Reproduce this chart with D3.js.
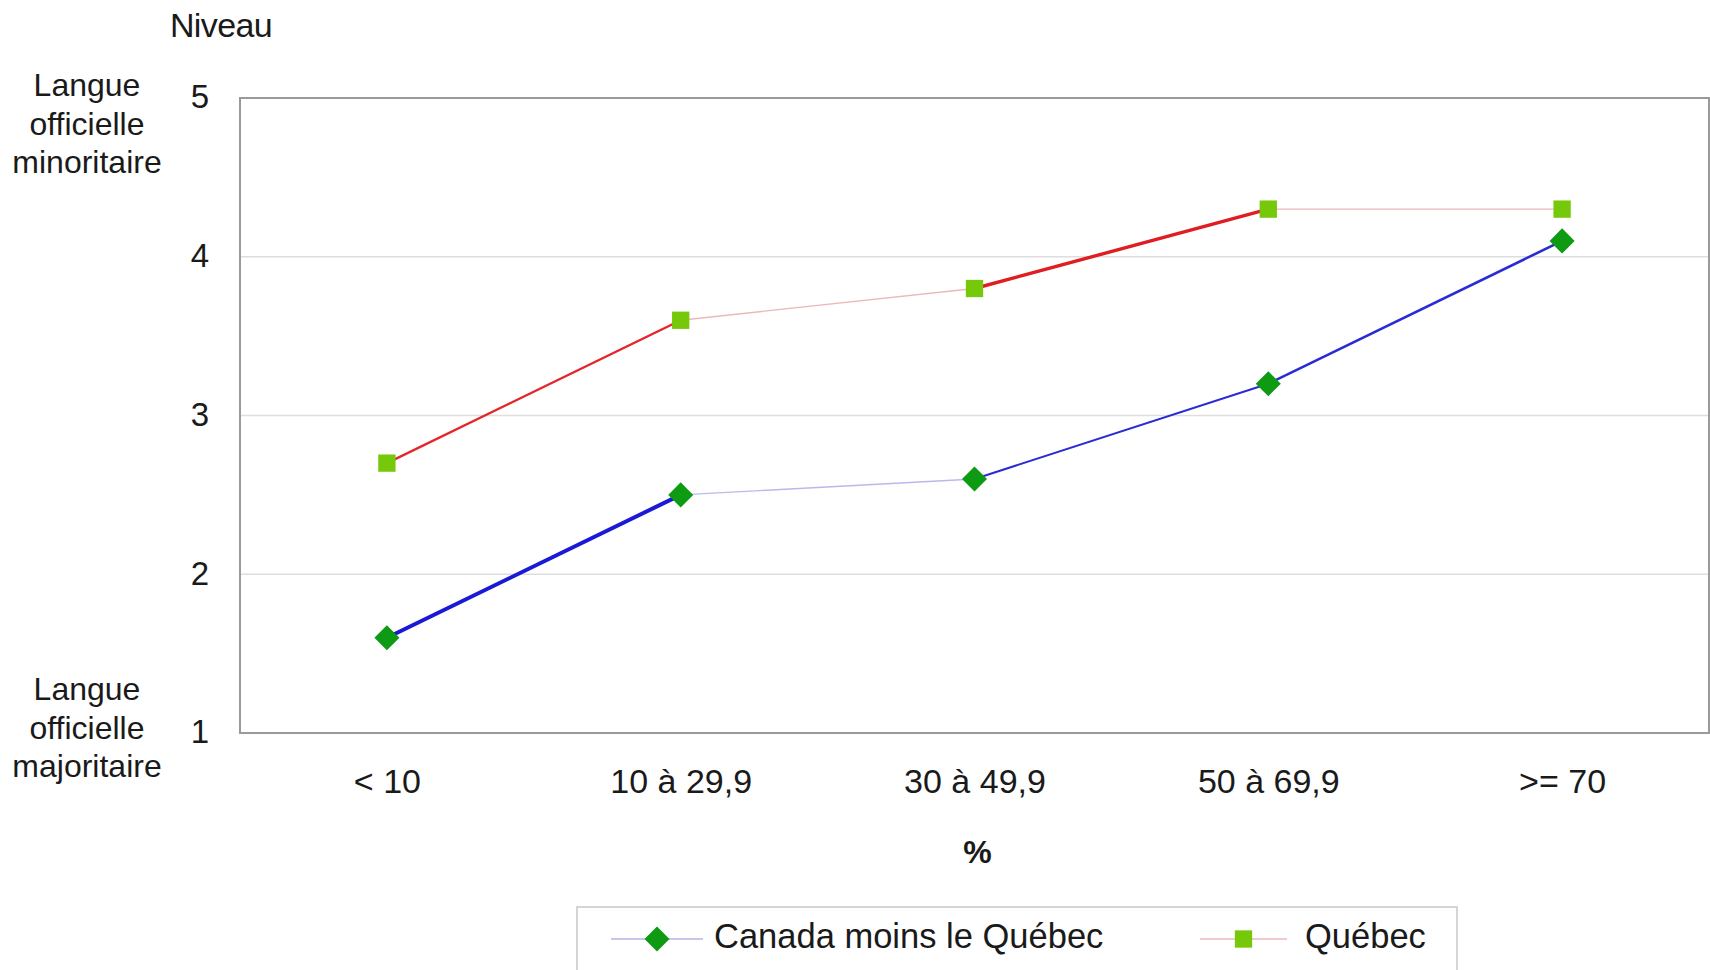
<!DOCTYPE html>
<html><head><meta charset="utf-8">
<script src="https://cdn.jsdelivr.net/npm/d3@7"></script>
<style>
html,body{margin:0;padding:0;background:#fff;}
svg{display:block;font-family:"Liberation Sans",Arial,Helvetica,sans-serif;}
</style></head>
<body><svg id="c" width="1710" height="970"></svg>
<script>
const categories = ["< 10", "10 à 29,9", "30 à 49,9", "50 à 69,9", ">= 70"];
const canadaValues = [1.6, 2.5, 2.6, 3.2, 4.1];
const quebecValues = [2.7, 3.6, 3.8, 4.3, 4.3];
const yTicks = [1, 2, 3, 4, 5];
const seriesNames = ["Canada moins le Québec", "Québec"];

// per-segment stroke styles (as in original rendering)
const canadaSegStyle = [
  {c:"#1a1ad6", w:4}, {c:"#b9b9ec", w:1.3}, {c:"#2b2bd6", w:2}, {c:"#2b2bd6", w:2.6}
];
const quebecSegStyle = [
  {c:"#e3262b", w:2.4}, {c:"#ecb8bc", w:1.3}, {c:"#e01e22", w:3.4}, {c:"#ecb8bc", w:1.3}
];

const svg = d3.select("#c");
const M = {left:240, top:98, right:1709, bottom:733};

const x = d3.scalePoint().domain(categories).range([M.left, M.right]).padding(0.5);
const y = d3.scaleLinear().domain([1,5]).range([M.bottom, M.top]);

// gridlines
svg.append("g").selectAll("line").data(yTicks.filter(t=>t>1 && t<5)).join("line")
  .attr("x1", M.left).attr("x2", M.right)
  .attr("y1", d=>y(d)).attr("y2", d=>y(d))
  .attr("stroke", "#dedede").attr("stroke-width", 1.5);

// frame
svg.append("rect").attr("x", M.left).attr("y", M.top)
  .attr("width", M.right - M.left).attr("height", M.bottom - M.top)
  .attr("fill", "none").attr("stroke", "#9a9a9a").attr("stroke-width", 2);

// y axis tick labels
const yAxis = d3.axisLeft(y).tickValues(yTicks).tickSize(0).tickPadding(0).tickFormat(d3.format("d"));
const gy = svg.append("g").attr("transform", `translate(${M.left-40},0)`).call(yAxis);
gy.select(".domain").remove();
gy.selectAll("text").attr("font-size", 33).attr("fill", "#1a1a1a")
  .attr("text-anchor", "middle").attr("x", 0).attr("dy", "0.3em");

// x axis tick labels
const xAxis = d3.axisBottom(x).tickSize(0).tickPadding(0);
const gx = svg.append("g").attr("transform", `translate(0,${M.bottom+65})`).call(xAxis);
gx.select(".domain").remove();
gx.selectAll("text").attr("font-size", 34).attr("fill", "#1a1a1a").attr("dy", "-0.15em").attr("y", 0);

// titles
svg.append("text").attr("x", 221).attr("y", 37).attr("text-anchor", "middle")
  .attr("font-size", 34).attr("fill", "#1a1a1a").attr("letter-spacing", -0.6).text("Niveau");
svg.append("text").attr("x", (M.left+M.right)/2 + 3).attr("y", 863).attr("text-anchor", "middle")
  .attr("font-size", 32).attr("font-weight", "bold").attr("fill", "#1a1a1a").text("%");

const topLbl = ["Langue", "officielle", "minoritaire"];
const botLbl = ["Langue", "officielle", "majoritaire"];
svg.append("g").selectAll("text").data(topLbl).join("text")
  .attr("x", 87).attr("y", (d,i)=>96 + i*38.7).attr("text-anchor", "middle")
  .attr("font-size", 32).attr("fill", "#1a1a1a").text(d=>d);
svg.append("g").selectAll("text").data(botLbl).join("text")
  .attr("x", 87).attr("y", (d,i)=>700 + i*38.7).attr("text-anchor", "middle")
  .attr("font-size", 32).attr("fill", "#1a1a1a").text(d=>d);

// lines drawn segment by segment
function segments(vals){
  return d3.pairs(vals.map((v,i)=>[categories[i], v]));
}
const line = d3.line().x(d=>x(d[0])).y(d=>y(d[1]));
svg.append("g").selectAll("path").data(segments(canadaValues)).join("path")
  .attr("d", d=>line(d)).attr("fill", "none")
  .attr("stroke", (d,i)=>canadaSegStyle[i].c).attr("stroke-width", (d,i)=>canadaSegStyle[i].w);
svg.append("g").selectAll("path").data(segments(quebecValues)).join("path")
  .attr("d", d=>line(d)).attr("fill", "none")
  .attr("stroke", (d,i)=>quebecSegStyle[i].c).attr("stroke-width", (d,i)=>quebecSegStyle[i].w);

// markers
const diamond = d3.symbol().type(d3.symbolDiamond2).size(400);
const square = d3.symbol().type(d3.symbolSquare).size(300);
svg.append("g").selectAll("path").data(canadaValues).join("path")
  .attr("transform", (d,i)=>`translate(${x(categories[i])},${y(d)})`)
  .attr("d", diamond).attr("fill", "#0f9a14");
svg.append("g").selectAll("path").data(quebecValues).join("path")
  .attr("transform", (d,i)=>`translate(${x(categories[i])},${y(d)})`)
  .attr("d", square).attr("fill", "#76c80a");

// legend
const lg = svg.append("g");
lg.append("rect").attr("x", 577).attr("y", 907).attr("width", 880).attr("height", 80)
  .attr("fill", "#fff").attr("stroke", "#c8c8c8").attr("stroke-width", 1.5);
const legendItems = [
  {name: seriesNames[0], x1:611, x2:703, lc:"#b4b4e4", sym:diamond, fill:"#0f9a14", tx:714},
  {name: seriesNames[1], x1:1200, x2:1287, lc:"#ecb8bc", sym:square, fill:"#76c80a", tx:1305}
];
legendItems.forEach(it=>{
  lg.append("line").attr("x1", it.x1).attr("x2", it.x2).attr("y1", 939).attr("y2", 939)
    .attr("stroke", it.lc).attr("stroke-width", 1.3);
  lg.append("path").attr("transform", `translate(${(it.x1+it.x2)/2},939)`)
    .attr("d", it.sym).attr("fill", it.fill);
  lg.append("text").attr("x", it.tx).attr("y", 948).attr("font-size", 34.5)
    .attr("fill", "#1a1a1a").text(it.name);
});
</script></body></html>
